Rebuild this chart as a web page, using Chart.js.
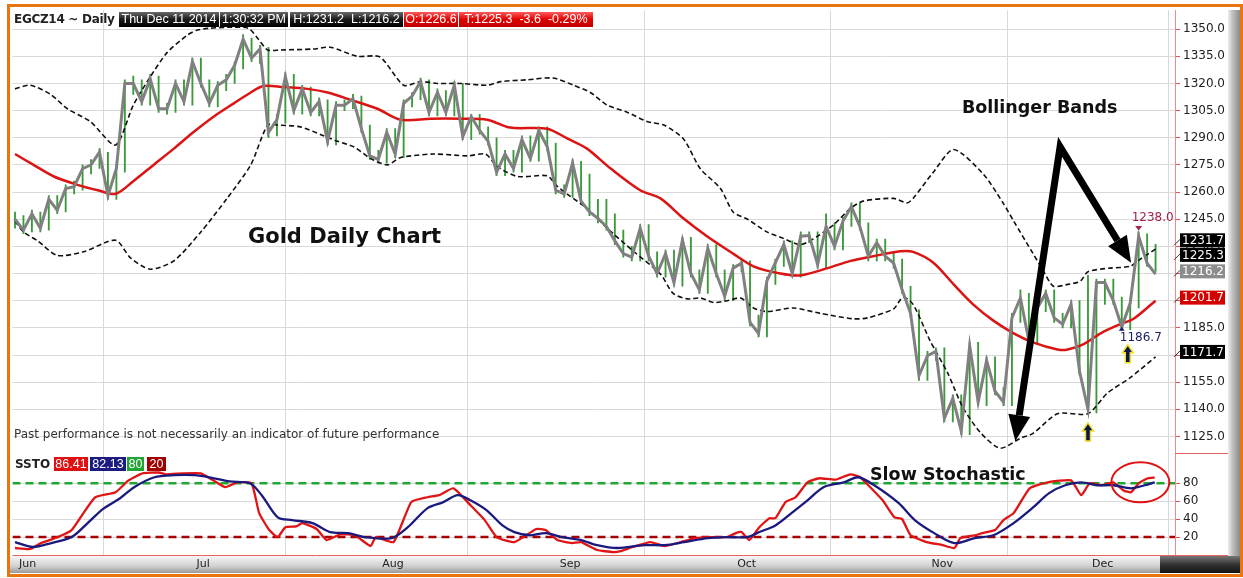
<!DOCTYPE html>
<html><head><meta charset="utf-8">
<script src="https://cdn.jsdelivr.net/npm/chart.js@4.4.1/dist/chart.umd.min.js"></script>
<style>
html,body{margin:0;padding:0;background:#fff;width:1243px;height:578px;overflow:hidden;font-family:"DejaVu Sans",sans-serif;}
#frame{position:absolute;left:7px;top:4px;width:1230px;height:567px;border:3px solid #e8760f;background:#fff;}
#rstrip{position:absolute;left:1228px;top:10px;width:12px;height:546px;background:linear-gradient(to right,#ededed,#bdbdbd 40%,#8a8a8a);}
#bstrip{position:absolute;left:10px;top:556px;width:1150px;height:17px;background:linear-gradient(#f7f7f7,#d0d0d0 60%,#9a9a9a);}
#bdark{position:absolute;left:1160px;top:556px;width:80px;height:17px;background:linear-gradient(#777,#333 50%,#111);}
#wrap{position:absolute;left:12px;top:0px;width:1216px;height:573px;}
.t{position:absolute;white-space:nowrap;}
.box{position:absolute;top:12px;height:15px;line-height:15px;font-family:"Liberation Sans",sans-serif;font-size:12.5px;color:#fff;text-align:center;white-space:nowrap;overflow:hidden;}
.blk{background:linear-gradient(#6a6a6a,#1a1a1a 50%,#000);}
.red{background:linear-gradient(#ff5a5a,#e00000 50%,#c00000);}
.sb{position:absolute;top:457px;height:14px;line-height:14px;font-family:"Liberation Sans",sans-serif;font-size:12.5px;color:#fff;text-align:center;}
.ann{position:absolute;font-family:"DejaVu Sans",sans-serif;font-weight:bold;color:#111;white-space:nowrap;}
</style></head>
<body>
<div id="frame"></div>
<div id="rstrip"></div>
<div id="bstrip"></div>
<div id="bdark"></div>
<div id="wrap"><canvas id="c" width="1216" height="573"></canvas></div>

<div class="t" style="left:14px;top:12px;font-size:12px;font-weight:bold;color:#222;line-height:15px;letter-spacing:-0.3px;">EGCZ14 ~ Daily</div>
<div class="box blk" style="left:119px;width:100px;">Thu Dec 11 2014</div>
<div class="box blk" style="left:220px;width:68px;">1:30:32 PM</div>
<div class="box blk" style="left:290px;width:113px;">H:1231.2&nbsp; L:1216.2</div>
<div class="box red" style="left:404px;width:54px;">O:1226.6</div>
<div class="box red" style="left:459px;width:134px;">T:1225.3&nbsp; -3.6&nbsp; -0.29%</div>

<div class="t" style="left:14px;top:427px;font-size:12px;color:#333;">Past performance is not necessarily an indicator of future performance</div>
<div class="t" style="left:15px;top:457px;font-size:12px;font-weight:bold;color:#222;line-height:14px;">SSTO</div>
<div class="sb" style="left:54px;width:34px;background:#e01010;">86.41</div>
<div class="sb" style="left:90px;width:36px;background:#1c1c80;">82.13</div>
<div class="sb" style="left:127px;width:17px;background:#22a535;">80</div>
<div class="sb" style="left:147px;width:19px;background:#a00000;">20</div>

<div class="ann" style="left:248px;top:224px;font-size:21px;">Gold Daily Chart</div>
<div class="ann" style="left:962px;top:97px;font-size:17.5px;">Bollinger Bands</div>
<div class="ann" style="left:870px;top:464px;font-size:17.5px;">Slow Stochastic</div>

<script>
const monthIdx = [0,21,43,64,85,108,127];
const monthLbl = ['Jun','Jul','Aug','Sep','Oct','Nov','Dec'];
const priceTicks = [1125,1140,1155,1170,1185,1200,1215,1230,1245,1260,1275,1290,1305,1320,1335,1350];
const stochTicks = [20,40,60,80];

const closes = [1245,1239,1248,1240,1256,1250,1262,1263,1273,1275,
 1282,1258,1273,1320,1320,1310,1322.5,1306,1306,1320,
 1310,1332,1320,1309,1319,1322,1330,1344.5,1334,1339,
 1293,1300,1323.6,1305,1317,1304,1310,1288,1308,1308,
 1311.5,1295,1280,1278,1293,1281,1309,1313,1321,1304,
 1315,1304,1319,1290.6,1301.6,1294,1288,1271,1281,1273,
 1289,1278.5,1294,1285,1261,1259,1276,1255,1249,1245.5,
 1241,1233,1226,1224,1240,1224.6,1215,1226,1210,1233.5,
 1215,1206,1229,1215,1202.6,1218,1220.7,1188,1182,1211,
 1221,1231,1215,1235.6,1236,1220,1241,1230,1244,1252,
 1241,1224.6,1232,1224.6,1220.7,1206,1193,1158.6,1169.6,1172,
 1135,1146,1128,1175,1144,1167,1150,1144,1190.5,1201.5,
 1178,1196,1204,1190.5,1187,1198,1161,1140,1210,1210,
 1200,1185.5,1198.7,1235.6,1220.7,1214.7];
const lows = [1240,1237,1238,1238,1239,1248,1249,1259,1261,1270,
 1273,1256,1256,1271,1314,1308,1308,1304,1303,1304,
 1308,1308,1318,1307,1307,1316,1320,1328,1332,1331,
 1290,1291,1298,1303,1303,1302,1302,1286,1286,1305,
 1306,1293,1278,1276,1276,1279,1279,1307,1311,1302,
 1302,1302,1302,1289,1289,1292,1286,1269,1269,1271,
 1271,1277,1277,1283,1259,1257,1257,1253,1247,1243,
 1239,1231,1224,1222,1222,1222,1213,1213,1208,1208,
 1213,1204,1204,1213,1200,1200,1216,1186,1180,1180,
 1209,1219,1213,1213,1232,1218,1218,1228,1228,1241,
 1239,1222,1222,1222,1218,1204,1191,1156,1156,1167,
 1133,1133,1126,1126,1142,1142,1148,1142,1142,1188,
 1176,1176,1194,1188,1185,1185,1159,1138,1138,1198,
 1198,1186.7,1184,1196,1219,1216.2];
const highs = [1249,1247,1250,1249,1258,1258,1264,1266,1275,1278,
 1284,1282,1275,1322,1324,1322,1325,1324,1309,1322,
 1322,1334,1334,1322,1321,1325,1332,1347,1345,1341,
 1340,1303,1326,1325,1319,1318,1312,1311,1310,1311,
 1314,1313,1297,1283,1295,1295,1311,1315,1323,1322,
 1317,1316,1321,1320,1303,1303,1296,1290,1283,1283,
 1291,1291,1296,1296,1287,1264,1278,1277,1270,1256,
 1256,1248,1239,1230,1242,1242,1227,1228,1228,1235,
 1235,1217,1231,1231,1217,1220,1223,1222,1192,1213,
 1223,1233,1233,1238,1238,1238,1248,1243,1246,1254,
 1254,1243,1234,1234,1227,1223,1208,1195,1172,1174,
 1174,1148,1148,1177,1177,1169,1169,1152,1193,1206,
 1204,1198,1206,1206,1193,1200,1200,1214,1212,1212,
 1212,1202,1201,1238,1237,1231.2];

const smaIdx = [0,2.2,4.6,7.4,9.8,11.9,14,16.4,18.8,21.1,23.5,25.9,27.9,29.4,31.8,34.6,37,39.7,42.9,45.6,49.2,52.7,55.9,58.6,63,65.4,67.7,70.5,74,76.4,79.1,81.9,85,87.4,90.6,93,96.2,98.9,101.6,104.8,106.3,108.7,111.1,113.4,115.8,118.2,120.5,123.4,124.6,126.5,128.5,130.8,132.4,135];
const smaVal = [1281,1275,1268.6,1264,1261,1259,1266,1275,1284,1293,1301.6,1309,1315,1318.6,1318,1317,1315,1311,1306,1300,1300.5,1300.5,1300,1295.6,1295,1289.5,1284,1273,1261,1256.5,1245.5,1235.6,1226,1219,1215,1214,1218,1222,1224.6,1227.3,1227,1221,1209,1198,1189,1182,1177,1173,1173,1176,1182,1187,1190,1200];

const upIdx = [0,1.8,4.2,6.2,8.9,11.9,14,16,18,20.4,21.6,23.1,25.1,27.6,28.8,29.9,31.4,35.3,37.3,40.5,43.2,46,48,50,52.7,55.9,57.5,60.6,63.7,66.1,68.1,70.1,72.5,74.8,76.8,79.1,81.1,83.5,85,86.7,89,90.9,93,95,96.9,98.9,100.4,104,105.6,106.3,108.7,111.1,114.6,117,118.2,120.5,121.7,122.9,124.6,126.1,127,129.6,132,133.2,135];
const upVal = [1317,1319,1314,1306,1299,1286,1308,1323.6,1337,1346.7,1349.5,1350.5,1351,1350.5,1344.5,1338.5,1338.5,1339,1340,1335,1334.6,1319,1321,1320,1320,1319,1321,1322,1323,1319,1315,1308,1304,1299,1297,1289.5,1273,1262,1249,1245,1238,1234.5,1231,1235.6,1242,1251,1255,1256.5,1254,1256.5,1271,1283.5,1270,1253.6,1244,1226,1216.6,1208,1209,1210.8,1216,1218,1219,1223,1228.5];

const loIdx = [0,1,2.7,5,8.1,11.9,13.7,16,18.8,22,25.1,27.9,29.9,31.1,33.8,36.2,38.2,40.1,42.1,44.1,45.6,49.5,53.6,55.7,57.1,59.5,63,64,65.4,67.7,70.1,73.2,76.4,77.9,79.6,81.1,82.7,84.3,85.9,87.4,89,92.1,95.3,99.2,100.9,104,105.1,106.3,108.3,110.4,112.2,114.3,116.6,119,120.5,123.4,127,129.3,132,135];
const loVal = [1244,1238,1233,1225,1227,1233.4,1223.5,1217.4,1222,1238,1256.5,1275,1297,1297,1296,1291.7,1288,1285,1278.5,1275,1279,1281,1280,1281,1274,1268.6,1269,1264,1258.7,1251,1240,1227.3,1214.7,1204,1201,1201.5,1199,1200,1201.5,1196,1194,1196,1193,1190,1190.5,1195.5,1202,1198,1178,1160,1141,1127,1118.5,1124,1126.7,1137.6,1137.6,1149,1157.5,1169];

const kIdx = [0,1.8,3,4.8,6.7,8.1,9.5,11.9,13.4,15.1,17,17.9,19.8,22,23.5,24.9,26.3,28,28.9,30.1,31.1,32,33.3,34,35.7,36.9,38.5,40.2,42.1,42.7,44.8,46.9,48.8,50.2,51.9,53.9,55.6,57,59.1,61.7,62.8,64.2,65.9,67,68.9,70.8,71.7,73.1,75.2,76.9,78.8,80.5,82.4,84.3,85.3,86,86.9,88.1,89.3,90,91.2,92.4,93.8,95.2,97.1,98.9,100,101,102.7,104.1,105,106,107.9,109.8,111.2,111.9,113.6,114.5,116,117,118.2,120.1,122.2,125,126.2,127.2,128.6,130,131.2,132.1,133,134.1,134.9];
const kVal = [7.8,6.7,13,18.9,27.8,46.7,64.4,70,83,91,92,90,91,91,83,75.6,81,80,46.7,27.8,20,31,32,35.6,29,16.7,23,22,10,20,14.4,59,64.4,66.7,74.4,55.6,38.9,20,14.4,29,27.8,16.7,13.3,14.4,5.6,3.3,4.4,8.9,14.4,10,14.4,18.9,20,20,24.4,25.6,16.7,31,41,41,59,64.4,81,85.6,84,90,87,77.8,61,42,40,22,14.4,11,7.8,18.9,22,24.4,27.8,38.9,46.7,74.4,81,83.3,66.7,80,77.8,81,72,70,80,85.6,86.4];

const dIdx = [0,2.1,4.3,6.7,8.6,10.5,12.4,14.1,16.5,18.9,21.2,23,25.4,27.8,29.2,31.1,32.8,35.2,37.3,39.5,41.4,44.6,46.5,48.8,50.7,52.4,53.9,55.8,57.7,59.1,61,62.8,64.7,67,68.9,71.3,74.5,76.9,79.2,82,84.3,86.7,88.1,90,91.9,93.8,95.7,98.1,99.8,101.7,104.6,106.5,108.8,111.2,113.6,115.8,118.2,120.5,122.4,124.3,126.2,128.1,130,132.1,133.7,134.9];
const dVal = [14.4,8.9,13.3,20,35.6,52,63,75.6,86.7,89,89,86.7,82,80,66.7,42,38.9,35.6,25.6,24.4,20,18.9,31,52,59,66.7,61,50,33,25.6,22,24.4,20,16.7,11,7.8,11,11,14.4,18.9,20,20,25.6,33,46.7,61,75.6,81,86.7,77.8,57.8,38.9,24.4,13.3,18.9,22,35.6,53,69,77.8,81,77.8,77.8,74.4,77.8,81];

const levelHi = 80, levelLo = 20;
const axisBoxes = [[1231.7,'#000000',-3],[1225.3,'#000000',0],[1216.2,'#8c8c8c',0],[1201.7,'#d40000',0],[1171.7,'#000000',0]];
const hiMark = {idx:133, value:1238.0}, loMark = {idx:131, value:1186.7};

const pts = (xs, ys) => xs.map((x,i)=>({x, y: ys[i]}));
const days = closes.map((_,i)=>i);
const FONT = '"DejaVu Sans", sans-serif';
const GRID = '#d9d9d9';

function upArrow(ctx, x, top){
  ctx.save();
  ctx.beginPath();
  ctx.moveTo(x, top); ctx.lineTo(x+5.5, top+8); ctx.lineTo(x+2.5, top+8); ctx.lineTo(x+2.5, top+18);
  ctx.lineTo(x-2.5, top+18); ctx.lineTo(x-2.5, top+8); ctx.lineTo(x-5.5, top+8); ctx.closePath();
  ctx.fillStyle='#0c1450'; ctx.strokeStyle='#f0e020'; ctx.lineWidth=1.5; ctx.fill(); ctx.stroke();
  ctx.restore();
}
function head(ctx, fx, fy, tx, ty, len, hw){
  const a = Math.atan2(ty-fy, tx-fx);
  const bx = tx - len*Math.cos(a), by = ty - len*Math.sin(a);
  ctx.beginPath(); ctx.moveTo(tx,ty);
  ctx.lineTo(bx + hw*Math.sin(a), by - hw*Math.cos(a));
  ctx.lineTo(bx - hw*Math.sin(a), by + hw*Math.cos(a));
  ctx.closePath(); ctx.fill();
  return [bx, by];
}

const overlay = {
  id:'overlay',
  afterDatasetsDraw(chart){
    const {ctx, chartArea:ca, scales:{x,y,y2}} = chart;
    ctx.save();
    const ax = x.getPixelForValue(123.7), ay = y.getPixelForValue(1285);
    const t1x = x.getPixelForValue(118.4), t1y = y.getPixelForValue(1122.5);
    const t2x = x.getPixelForValue(132.1), t2y = y.getPixelForValue(1221);
    ctx.fillStyle='#000'; ctx.strokeStyle='#000';
    const b1 = head(ctx, ax, ay, t1x, t1y, 26, 11);
    const b2 = head(ctx, ax, ay, t2x, t2y, 26, 11);
    ctx.lineWidth=7; ctx.lineJoin='miter'; ctx.miterLimit=10;
    ctx.beginPath(); ctx.moveTo(b1[0], b1[1]); ctx.lineTo(ax, ay); ctx.lineTo(b2[0], b2[1]); ctx.stroke();
    ctx.strokeStyle='#e01010'; ctx.lineWidth=2;
    ctx.beginPath(); ctx.ellipse(x.getPixelForValue(133.2), y2.getPixelForValue(81), 29, 20, 0, 0, Math.PI*2); ctx.stroke();
    const hx = x.getPixelForValue(hiMark.idx), hy = y.getPixelForValue(hiMark.value);
    ctx.fillStyle='#a3204c';
    ctx.beginPath(); ctx.moveTo(hx-3.5, hy-6); ctx.lineTo(hx+3.5, hy-6); ctx.lineTo(hx, hy-1.5); ctx.closePath(); ctx.fill();
    ctx.font='12px '+FONT; ctx.textBaseline='middle'; ctx.textAlign='left';
    ctx.fillText(hiMark.value.toFixed(1), hx-7, hy-14);
    const lx = x.getPixelForValue(loMark.idx), ly = y.getPixelForValue(loMark.value);
    ctx.fillStyle='#1c1c6a';
    ctx.beginPath(); ctx.moveTo(lx-3, ly+6); ctx.lineTo(lx+3, ly+6); ctx.lineTo(lx, ly+2); ctx.closePath(); ctx.fill();
    ctx.fillText(loMark.value.toFixed(1), lx-2, ly+13);
    upArrow(ctx, x.getPixelForValue(127), y.getPixelForValue(lows[127])+10);
    upArrow(ctx, lx+6, ly+20);
    ctx.restore();
  },
  afterDraw(chart){
    const {ctx, chartArea:ca, scales:{y}} = chart;
    ctx.save();
    ctx.strokeStyle='#e86060'; ctx.lineWidth=1;
    ctx.beginPath(); ctx.moveTo(ca.left, Math.round(ca.bottom)+0.5); ctx.lineTo(chart.width, Math.round(ca.bottom)+0.5); ctx.stroke();
    ctx.beginPath(); ctx.moveTo(ca.right, Math.round(y.bottom)+0.5); ctx.lineTo(chart.width, Math.round(y.bottom)+0.5); ctx.stroke();
    ctx.font='12px '+FONT; ctx.textBaseline='middle'; ctx.textAlign='left';
    axisBoxes.forEach(([v,col,off])=>{
      const py = y.getPixelForValue(v)+off;
      ctx.fillStyle=col; ctx.fillRect(ca.right+5, py-7, 45, 14);
      ctx.strokeStyle='#333'; ctx.lineWidth=1;
      ctx.beginPath(); ctx.moveTo(ca.right-1, py+5); ctx.lineTo(ca.right+5, py-1); ctx.stroke();
      ctx.fillStyle='#fff'; ctx.fillText(v.toFixed(1), ca.right+7, py+0.5);
    });
    ctx.restore();
  }
};

new Chart(document.getElementById('c'), {
  type:'line',
  data:{ datasets:[
    {type:'bar', label:'OHLC', data: days.map(i=>({x:i, y:[lows[i], highs[i]]})), backgroundColor:'#3a9a3a', barThickness:1.2, grouped:false, borderWidth:0, yAxisID:'y', order:6},
    {label:'Upper band', data: pts(upIdx, upVal), borderColor:'#111', borderWidth:1.6, borderDash:[5,3], pointRadius:0, tension:0.25, yAxisID:'y', order:5},
    {label:'Lower band', data: pts(loIdx, loVal), borderColor:'#111', borderWidth:1.6, borderDash:[5,3], pointRadius:0, tension:0.25, yAxisID:'y', order:5},
    {label:'SMA', data: pts(smaIdx, smaVal), borderColor:'#dc1414', borderWidth:2.5, pointRadius:0, tension:0.3, yAxisID:'y', order:4},
    {label:'Close', data: days.map(i=>({x:i, y:closes[i]})), borderColor:'#808080', borderWidth:3, pointRadius:0, tension:0, yAxisID:'y', order:3},
    {label:'80', data:[{x:-0.3,y:levelHi},{x:137.3,y:levelHi}], borderColor:'#1fa832', borderWidth:2.5, borderDash:[8,5], pointRadius:0, yAxisID:'y2', order:8},
    {label:'20', data:[{x:-0.3,y:levelLo},{x:137.3,y:levelLo}], borderColor:'#a80000', borderWidth:2.5, borderDash:[8,5], pointRadius:0, yAxisID:'y2', order:8},
    {label:'%K', data: pts(kIdx, kVal), borderColor:'#e01414', borderWidth:2.3, pointRadius:0, tension:0.15, yAxisID:'y2', order:2},
    {label:'%D', data: pts(dIdx, dVal), borderColor:'#1a1a7e', borderWidth:2.3, pointRadius:0, tension:0.3, yAxisID:'y2', order:1}
  ]},
  options:{
    responsive:false, animation:false, events:[],
    layout:{padding:0},
    plugins:{legend:{display:false}, tooltip:{enabled:false}},
    scales:{
      x:{type:'linear', min:-0.3, max:137.3, offset:false,
         afterBuildTicks: ax => { ax.ticks = monthIdx.map(v=>({value:v})); },
         afterFit: s => { s.height = 18; },
         ticks:{callback:(v,i)=>monthLbl[i], align:'start', labelOffset:4, padding:3, maxRotation:0, autoSkip:false, color:'#222', font:{family:FONT, size:11}},
         grid:{color: c => c.index===0 ? 'rgba(0,0,0,0)' : GRID, drawTicks:false, lineWidth:1},
         border:{display:false}},
      y:{position:'right', stack:'panels', stackWeight:445, min:1115.65, max:1360.45,
         afterBuildTicks: ax => { ax.ticks = priceTicks.map(v=>({value:v})); },
         afterFit: s => { s.width = 53; },
         ticks:{callback:v=>Number(v).toFixed(1), autoSkip:false, color:'#222', padding:3, font:{family:FONT, size:12}},
         grid:{color:GRID, tickColor:'#e85050', tickLength:5, lineWidth:1},
         border:{color:'#f08a8a', width:1}},
      y2:{position:'right', stack:'panels', stackWeight:102, min:0, max:113.3,
         afterBuildTicks: ax => { ax.ticks = stochTicks.map(v=>({value:v})); },
         afterFit: s => { s.width = 53; },
         ticks:{callback:v=>String(v), autoSkip:false, color:'#222', padding:3, font:{family:FONT, size:12}},
         grid:{color:GRID, tickColor:'#e85050', tickLength:5, lineWidth:1},
         border:{color:'#f08a8a', width:1}}
    }
  },
  plugins:[overlay]
});
</script>
</body></html>
